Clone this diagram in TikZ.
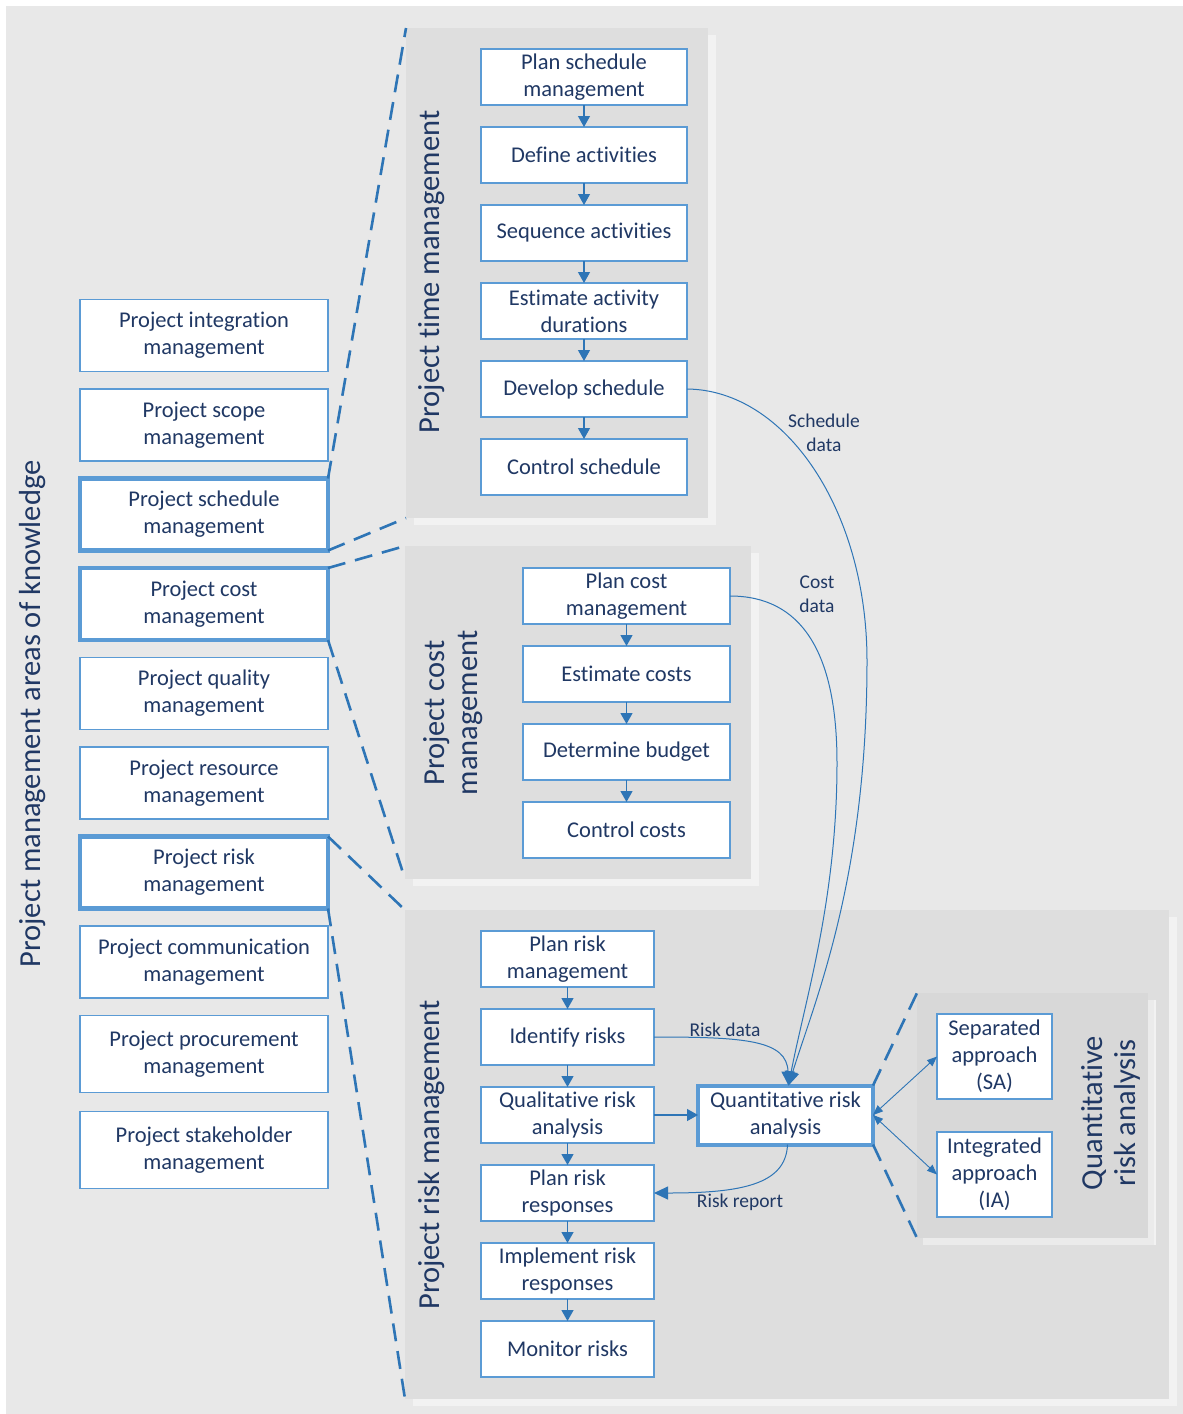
\documentclass[tikz,border=0pt]{standalone}
\usepackage{fontspec}
\setmainfont{Carlito}[Ligatures=NoCommon]
\usetikzlibrary{arrows.meta,positioning,shadows}

\definecolor{bgout}{HTML}{E8E8E8}
\definecolor{panelgray}{HTML}{DEDEDE}
\definecolor{panellight}{HTML}{F2F2F2}
\definecolor{subgray}{HTML}{D8D8D8}
\definecolor{sublight}{HTML}{EBEBEB}
\definecolor{boxline}{HTML}{5B9BD5}
\definecolor{arrowblue}{HTML}{2E75B6}
\definecolor{textnavy}{HTML}{203864}

\begin{document}
\begin{tikzpicture}[
		x=1pt, y=-1pt,
		node distance=22pt,
		block/.style={draw=boxline, line width=1.5pt, fill=white, text=textnavy, align=center, inner sep=2pt, outer sep=0pt, minimum height=56pt, font=\fontsize{22.5}{27}\selectfont},
		area/.style={block, minimum width=248pt, minimum height=72pt},
		keyarea/.style={area, line width=4.5pt},
		panel/.style={fill=panelgray, inner sep=0pt, outer sep=0pt, anchor=north west, general shadow={fill=panellight, shadow xshift=8pt, shadow yshift=-7pt}},
		subpanel/.style={panel, fill=subgray, general shadow={fill=sublight, shadow xshift=6pt, shadow yshift=-7pt}},
		paneltitle/.style={text=textnavy, rotate=90, align=center, font=\fontsize{30.5}{33}\selectfont},
		datalabel/.style={text=textnavy, align=center, font=\fontsize{19.5}{24}\selectfont},
		flow/.style={draw=arrowblue, line width=1.2pt, -{Triangle[length=11pt,width=12pt]}},
		dataflow/.style={draw=arrowblue, line width=1pt, -{Triangle[length=14pt,width=13pt]}},
		twoway/.style={draw=arrowblue, line width=0.9pt, {Triangle[length=10pt,width=8pt]}-{Triangle[length=10pt,width=8pt]}},
		zoomline/.style={draw=arrowblue, line width=2.6pt, dash pattern=on 18pt off 10pt},
	]
		\useasboundingbox (0,0) rectangle (1183,1414);
		\fill[white] (0,0) rectangle (1183,1414);
		\fill[bgout] (6,6) rectangle (1183,1414);
		
		\node[panel, minimum width=302pt, minimum height=490pt] (timepanel) at (406,28) {};
		\node[panel, minimum width=346pt, minimum height=333pt] (costpanel) at (405,546) {};
		\node[panel, minimum width=764pt, minimum height=489pt] (riskpanel) at (405,910) {};
		\node[subpanel, minimum width=231pt, minimum height=245pt] (quantpanel) at (917,993) {};
		
		\node[paneltitle] (title) at (33,714) {Project management areas of knowledge};
		\node[paneltitle] (timetitle) at (432,272) {Project time management};
		\node[paneltitle] (costtitle) at (453.5,713) {Project cost\\management};
		\node[paneltitle] (risktitle) at (432,1155) {Project risk management};
		\node[paneltitle] (quanttitle) at (1111,1113) {Quantitative\\risk analysis};
		
		\node[area] (integ) at (204,335.5) {Project integration\\management};
		\node[area, below=17.5pt of integ] (scope) {Project scope\\management};
		\node[keyarea, below=17.5pt of scope] (sched) {Project schedule\\management};
		\node[keyarea, below=17.5pt of sched] (cost) {Project cost\\management};
		\node[area, below=17.5pt of cost] (quality) {Project quality\\management};
		\node[area, below=17.5pt of quality] (resource) {Project resource\\management};
		\node[keyarea, below=17.5pt of resource] (risk) {Project risk\\management};
		\node[area, below=17.5pt of risk] (comm) {Project communication\\management};
		\node[area, below=17.5pt of comm, minimum height=77pt] (procure) {Project procurement\\management};
		\node[area, below=19pt of procure, minimum height=77pt] (stake) {Project stakeholder\\management};
		
		\node[block, minimum width=206pt] (plansch) at (584,77) {Plan schedule\\management};
		\node[block, minimum width=206pt, below=of plansch] (defact) {Define activities};
		\node[block, minimum width=206pt, below=of defact] (seqact) {Sequence activities};
		\node[block, minimum width=206pt, below=of seqact] (estdur) {Estimate activity\\durations};
		\node[block, minimum width=206pt, below=of estdur] (devsch) {Develop schedule};
		\node[block, minimum width=206pt, below=of devsch] (ctrlsch) {Control schedule};
		
		\node[block, minimum width=207pt] (plancost) at (626.5,596) {Plan cost\\management};
		\node[block, minimum width=207pt, below=of plancost] (estcost) {Estimate costs};
		\node[block, minimum width=207pt, below=of estcost] (budget) {Determine budget};
		\node[block, minimum width=207pt, below=of budget] (ctrlcost) {Control costs};
		
		\node[block, minimum width=173pt] (planrisk) at (567.5,959) {Plan risk\\management};
		\node[block, minimum width=173pt, below=of planrisk] (identify) {Identify risks};
		\node[block, minimum width=173pt, below=of identify] (qual) {Qualitative risk\\analysis};
		\node[block, minimum width=173pt, below=of qual] (planresp) {Plan risk\\responses};
		\node[block, minimum width=173pt, below=of planresp] (implresp) {Implement risk\\responses};
		\node[block, minimum width=173pt, below=of implresp] (monitor) {Monitor risks};
		
		\node[block, line width=4pt, minimum width=175pt, minimum height=59pt, right=44pt of qual] (qra) {Quantitative risk\\analysis};
		\node[block, minimum width=115pt, minimum height=85pt] (sa) at (994.5,1056.5) {Separated\\approach\\(SA)};
		\node[block, minimum width=115pt, minimum height=85pt] (ia) at (994.5,1174.5) {Integrated\\approach\\(IA)};
		
		\draw[flow] (plansch) -- (defact);
		\draw[flow] (defact) -- (seqact);
		\draw[flow] (seqact) -- (estdur);
		\draw[flow] (estdur) -- (devsch);
		\draw[flow] (devsch) -- (ctrlsch);
		\draw[flow] (plancost) -- (estcost);
		\draw[flow] (estcost) -- (budget);
		\draw[flow] (budget) -- (ctrlcost);
		\draw[flow] (planrisk) -- (identify);
		\draw[flow] (identify) -- (qual);
		\draw[flow] (qual) -- (planresp);
		\draw[flow] (planresp) -- (implresp);
		\draw[flow] (implresp) -- (monitor);
		\draw[flow] (qual) -- (qra);
		\draw[twoway] (qra.east) -- (sa.west);
		\draw[twoway] (qra.east) -- (ia.west);
		
		\draw[dataflow] (devsch.east) .. controls (786,390) and (867,511) .. (867,661) .. controls (867,880) and (815,1000) .. ([xshift=3pt]qra.north);
		\draw[dataflow] (plancost.east) .. controls (800,596) and (837,650) .. (837,763) .. controls (837,900) and (805,1000) .. ([xshift=3pt]qra.north);
		\draw[dataflow] (identify.east) .. controls (745,1037) and (787,1040) .. ([xshift=3pt]qra.north);
		\draw[dataflow] ([xshift=2pt]qra.south) .. controls (786,1185) and (740,1193) .. (planresp.east);
		
		\node[datalabel] (schedlbl) at (824,433) {Schedule\\data};
		\node[datalabel] (costlbl) at (817,594) {Cost\\data};
		\node[datalabel] (risklbl) at (725,1030) {Risk data};
		\node[datalabel] (reportlbl) at (740,1202) {Risk report};
		
		\draw[zoomline] (sched.north east) -- (timepanel.north west);
		\draw[zoomline] (sched.south east) -- (timepanel.south west);
		\draw[zoomline] (cost.north east) -- (costpanel.north west);
		\draw[zoomline] (cost.south east) -- (costpanel.south west);
		\draw[zoomline] (risk.north east) -- (riskpanel.north west);
		\draw[zoomline] (risk.south east) -- (riskpanel.south west);
		\draw[zoomline] (qra.north east) -- (quantpanel.north west);
		\draw[zoomline] (qra.south east) -- (quantpanel.south west);
	\end{tikzpicture}
\end{document}
